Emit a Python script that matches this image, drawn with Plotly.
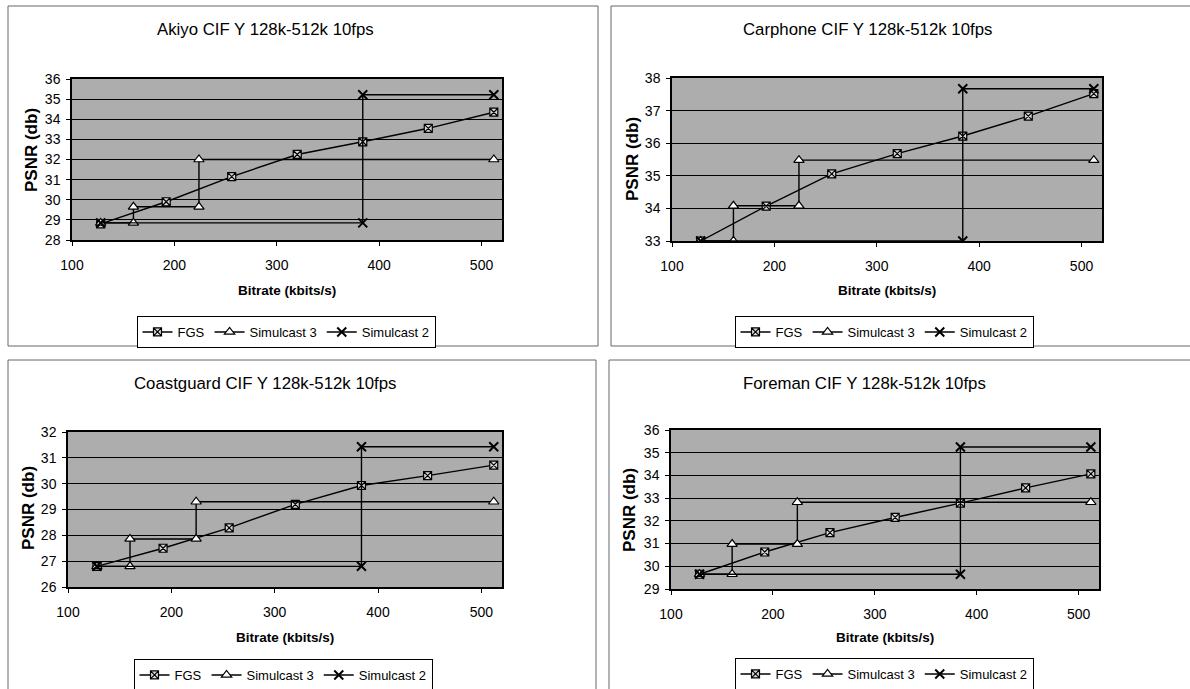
import plotly.graph_objects as go

W, H = 1190, 689

# ---------------- data ----------------
titles = ["Akiyo CIF Y 128k-512k 10fps", "Carphone CIF Y 128k-512k 10fps",
          "Coastguard CIF Y 128k-512k 10fps", "Foreman CIF Y 128k-512k 10fps"]

fgs_x = [128, 192, 256, 320, 384, 448, 512]
sim3_x = [128, 160, 160, 224, 224, 512]
sim2_x = [128, 384, 384, 512]

akiyo_fgs = [28.8, 29.9, 31.15, 32.25, 32.88, 33.55, 34.35]
akiyo_sim3 = [28.85, 28.85, 29.65, 29.65, 32.0, 32.0]
akiyo_sim2 = [28.85, 28.85, 35.22, 35.22]

carphone_fgs = [33.0, 34.07, 35.06, 35.68, 36.22, 36.83, 37.52]
carphone_sim3 = [33.0, 33.0, 34.08, 34.08, 35.48, 35.48]
carphone_sim2 = [33.0, 33.0, 37.67, 37.67]

coast_fgs = [26.8, 27.5, 28.29, 29.2, 29.93, 30.31, 30.72]
coast_sim3 = [26.8, 26.8, 27.86, 27.86, 29.3, 29.3]
coast_sim2 = [26.8, 26.8, 31.43, 31.43]

foreman_fgs = [29.65, 30.63, 31.48, 32.15, 32.78, 33.45, 34.07]
foreman_sim3 = [29.65, 29.65, 30.98, 30.98, 32.82, 32.82]
foreman_sim2 = [29.65, 29.65, 35.25, 35.25]

y_ranges = [[28, 36], [33, 38], [26, 32], [29, 36]]
x_range = [100, 520]
x_ticks = [100, 200, 300, 400, 500]

series = [
    (akiyo_fgs, akiyo_sim3, akiyo_sim2),
    (carphone_fgs, carphone_sim3, carphone_sim2),
    (coast_fgs, coast_sim3, coast_sim2),
    (foreman_fgs, foreman_sim3, foreman_sim2),
]

# ---------------- layout geometry (pixels) ----------------
plot_px = [  # x0, x1, ytop, ybottom
    (72, 502, 79, 240),
    (672, 1102, 78, 241),
    (68, 502, 432, 587),
    (671, 1099, 430, 589),
]
title_px = [(265, 30), (867, 30), (265, 383), (864, 383)]
xlab_px = [(287, 290), (887, 290), (285, 637), (885, 637)]
ylab_px = [(32, 150), (632, 159), (28, 508), (630, 510)]
legend_px = [(286, 316), (884, 316), (283, 659), (884, 658)]
panel_px = [(8, 598, 6, 346), (611, 1200, 6, 346), (8, 596, 360, 700), (609, 1200, 360, 700)]

FONT = "Liberation Sans, Arial, sans-serif"


def px(x):
    return x / W


def py(y):
    return 1 - y / H


fig = go.Figure()

for i, (fgs, s3, s2) in enumerate(series):
    n = "" if i == 0 else str(i + 1)
    xa, ya = "x" + n, "y" + n
    leg = "legend" + n
    fig.add_trace(go.Scatter(
        x=fgs_x, y=fgs, name="FGS", mode="lines+markers", xaxis=xa, yaxis=ya, legend=leg,
        line=dict(color="black", width=1.4),
        marker=dict(symbol="square-x", size=8, color="#d8d8d8", line=dict(color="black", width=1.2))))
    fig.add_trace(go.Scatter(
        x=sim3_x, y=s3, name="Simulcast 3", mode="lines+markers", xaxis=xa, yaxis=ya, legend=leg,
        line=dict(color="black", width=1.4),
        marker=dict(symbol="triangle-up", size=9, color="white", line=dict(color="black", width=1.2))))
    fig.add_trace(go.Scatter(
        x=sim2_x, y=s2, name="Simulcast 2", mode="lines+markers", xaxis=xa, yaxis=ya, legend=leg,
        line=dict(color="black", width=1.4),
        marker=dict(symbol="x-thin", size=9, color="black", line=dict(color="black", width=2))))

    x0, x1, yt, yb = plot_px[i]
    axis_common = dict(showline=True, linecolor="black", linewidth=1.5, mirror=True,
                       ticks="outside", ticklen=4, tickcolor="black", automargin=False,
                       tickfont=dict(family=FONT, size=14, color="black"), zeroline=False)
    fig.layout["xaxis" + n] = dict(domain=[px(x0), px(x1)], anchor=ya, range=x_range,
                                   tickvals=x_ticks, showgrid=False, ticklabelstandoff=7,
                                   **axis_common)
    fig.layout["yaxis" + n] = dict(domain=[py(yb), py(yt)], anchor=xa, range=y_ranges[i],
                                   dtick=1, showgrid=True, gridcolor="black", gridwidth=1.2,
                                   ticklabelstandoff=3, **axis_common)
    lx, ly = legend_px[i]
    fig.layout[leg] = dict(orientation="h", x=px(lx), y=py(ly), xanchor="center", yanchor="top",
                           bgcolor="white", bordercolor="black", borderwidth=1,
                           font=dict(family=FONT, size=13, color="black"),
                           itemwidth=30, tracegroupgap=0)

    tx, ty = title_px[i]
    fig.add_annotation(text=titles[i], x=px(tx), y=py(ty), xref="paper", yref="paper",
                       xanchor="center", yanchor="middle",
                       showarrow=False, font=dict(family=FONT, size=16.8, color="black"))
    bx, by = xlab_px[i]
    fig.add_annotation(text="<b>Bitrate (kbits/s)</b>", x=px(bx), y=py(by), xref="paper", yref="paper",
                       xanchor="center", yanchor="middle",
                       showarrow=False, font=dict(family=FONT, size=13.5, color="black"))
    vx, vy = ylab_px[i]
    fig.add_annotation(text="<b>PSNR (db)</b>", x=px(vx), y=py(vy), xref="paper", yref="paper",
                       xanchor="center", yanchor="middle",
                       showarrow=False, textangle=-90, font=dict(family=FONT, size=17, color="black"))
    p0, p1, q0, q1 = panel_px[i]
    fig.add_shape(type="rect", xref="paper", yref="paper", x0=px(p0), x1=px(p1), y0=py(q1), y1=py(q0),
                  line=dict(color="#666666", width=1), fillcolor="rgba(0,0,0,0)", layer="below")

fig.update_layout(width=W, height=H, margin=dict(l=0, r=0, t=0, b=0, autoexpand=False),
                  paper_bgcolor="white", plot_bgcolor="#adadad", showlegend=True)

fig.write_html("out.html")
